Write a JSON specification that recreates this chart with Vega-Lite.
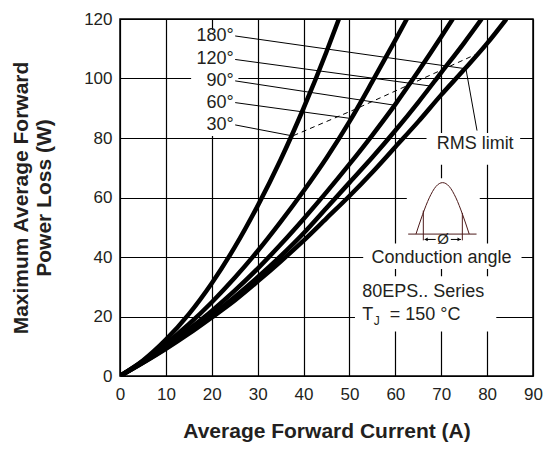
{
  "$schema": "https://vega.github.io/schema/vega-lite/v6.json",
  "width": 413,
  "height": 357,
  "autosize": "none",
  "padding": {"left": 120, "top": 19, "right": 10, "bottom": 73},
  "background": "white",
  "config": {
    "view": {"stroke": "#000", "strokeWidth": 1.5},
    "font": "Liberation Sans",
    "axis": {
      "grid": true, "gridColor": "#000", "gridWidth": 1.2, "gridOpacity": 1,
      "domain": false, "ticks": false,
      "labelFont": "Liberation Sans", "labelFontSize": 17, "labelColor": "#231f20",
      "titleFont": "Liberation Sans", "titleFontSize": 21, "titleFontWeight": "bold", "titleColor": "#231f20"
    }
  },
  "datasets": {
    "curves": [
      {"c": "30", "I": 0, "P": 0}, {"c": "30", "I": 5, "P": 5.2}, {"c": "30", "I": 10, "P": 12.2}, {"c": "30", "I": 15, "P": 20.8}, {"c": "30", "I": 20, "P": 31.2}, {"c": "30", "I": 25, "P": 43.3}, {"c": "30", "I": 30, "P": 57.2}, {"c": "30", "I": 35, "P": 72.7}, {"c": "30", "I": 40, "P": 90}, {"c": "30", "I": 45, "P": 109}, {"c": "30", "I": 47.7, "P": 120},
      {"c": "60", "I": 0, "P": 0}, {"c": "60", "I": 5, "P": 5}, {"c": "60", "I": 10, "P": 10.8}, {"c": "60", "I": 15, "P": 17.4}, {"c": "60", "I": 20, "P": 24.8}, {"c": "60", "I": 25, "P": 33}, {"c": "60", "I": 30, "P": 42}, {"c": "60", "I": 35, "P": 51.8}, {"c": "60", "I": 40, "P": 62.2}, {"c": "60", "I": 45, "P": 73.3}, {"c": "60", "I": 50, "P": 85.5}, {"c": "60", "I": 55, "P": 99}, {"c": "60", "I": 60, "P": 112.9}, {"c": "60", "I": 62.5, "P": 120},
      {"c": "90", "I": 0, "P": 0}, {"c": "90", "I": 5, "P": 4.7}, {"c": "90", "I": 10, "P": 9.9}, {"c": "90", "I": 15, "P": 15.7}, {"c": "90", "I": 20, "P": 21.9}, {"c": "90", "I": 25, "P": 28.7}, {"c": "90", "I": 30, "P": 36.1}, {"c": "90", "I": 35, "P": 44.2}, {"c": "90", "I": 40, "P": 52.8}, {"c": "90", "I": 45, "P": 61.8}, {"c": "90", "I": 50, "P": 71.2}, {"c": "90", "I": 55, "P": 81}, {"c": "90", "I": 60, "P": 91.3}, {"c": "90", "I": 65, "P": 102.4}, {"c": "90", "I": 70, "P": 114}, {"c": "90", "I": 72.5, "P": 120},
      {"c": "120", "I": 0, "P": 0}, {"c": "120", "I": 5, "P": 4.5}, {"c": "120", "I": 10, "P": 9.4}, {"c": "120", "I": 15, "P": 14.7}, {"c": "120", "I": 20, "P": 20.5}, {"c": "120", "I": 25, "P": 26.6}, {"c": "120", "I": 30, "P": 33.2}, {"c": "120", "I": 35, "P": 40.3}, {"c": "120", "I": 40, "P": 48}, {"c": "120", "I": 45, "P": 56.5}, {"c": "120", "I": 50, "P": 65}, {"c": "120", "I": 55, "P": 73.5}, {"c": "120", "I": 60, "P": 82.5}, {"c": "120", "I": 65, "P": 92}, {"c": "120", "I": 70, "P": 102}, {"c": "120", "I": 75, "P": 112}, {"c": "120", "I": 78.8, "P": 120},
      {"c": "180", "I": 0, "P": 0}, {"c": "180", "I": 5, "P": 4.4}, {"c": "180", "I": 10, "P": 9.1}, {"c": "180", "I": 15, "P": 14.2}, {"c": "180", "I": 20, "P": 19.7}, {"c": "180", "I": 25, "P": 25.4}, {"c": "180", "I": 30, "P": 31.8}, {"c": "180", "I": 35, "P": 38.5}, {"c": "180", "I": 40, "P": 45.5}, {"c": "180", "I": 45, "P": 53}, {"c": "180", "I": 50, "P": 60.5}, {"c": "180", "I": 55, "P": 68.5}, {"c": "180", "I": 60, "P": 77}, {"c": "180", "I": 65, "P": 85.5}, {"c": "180", "I": 70, "P": 94.5}, {"c": "180", "I": 75, "P": 103}, {"c": "180", "I": 80, "P": 111.8}, {"c": "180", "I": 84.2, "P": 120}
    ],
    "rms": [
      {"I": 37.8, "P": 80.8}, {"I": 51.3, "P": 89.7}, {"I": 63, "P": 97.9}, {"I": 71, "P": 103.5}, {"I": 78.8, "P": 109}
    ],
    "boxes": [
      {"x": 15.5, "x2": 25.8, "y": 80.7, "y2": 116.3},
      {"x": 66.8, "x2": 87.2, "y": 71, "y2": 81.7},
      {"x": 62.5, "x2": 78.4, "y": 44, "y2": 66.5},
      {"x": 53, "x2": 87.5, "y": 36, "y2": 44.5},
      {"x": 51.2, "x2": 82, "y": 15, "y2": 33.5}
    ],
    "leaders": [
      {"x": 25.1, "y": 114.3, "x2": 75.2, "y2": 103.3},
      {"x": 25.1, "y": 106.4, "x2": 67.5, "y2": 97.5},
      {"x": 25.1, "y": 99.2, "x2": 59.5, "y2": 91.1},
      {"x": 25.1, "y": 91.9, "x2": 50.1, "y2": 86.6},
      {"x": 25.1, "y": 84.4, "x2": 37.6, "y2": 80.7},
      {"x": 75.3, "y": 104, "x2": 77.8, "y2": 82.5}
    ],
    "anglelabels": [
      {"t": "180°", "x": 24.8, "y": 114.3},
      {"t": "120°", "x": 24.8, "y": 106.4},
      {"t": "90°", "x": 24.8, "y": 99.2},
      {"t": "60°", "x": 24.8, "y": 91.9},
      {"t": "30°", "x": 24.8, "y": 84.4}
    ],
    "notes": [
      {"t": "RMS limit", "x": 69, "y": 77.9},
      {"t": "Conduction angle", "x": 54.8, "y": 39.8},
      {"t": "80EPS.. Series", "x": 52.8, "y": 28.4},
      {"t": "T", "x": 52.8, "y": 20.5},
      {"t": "= 150 °C", "x": 58.8, "y": 20.5}
    ],
    "sine": [
      {"x": 64.5, "y": 47.7}, {"x": 65.95, "y": 54.3}, {"x": 67.4, "y": 59.9}, {"x": 68.85, "y": 63.7}, {"x": 70.3, "y": 65}, {"x": 71.75, "y": 63.7}, {"x": 73.2, "y": 59.9}, {"x": 74.65, "y": 54.3}, {"x": 76.1, "y": 47.7}
    ],
    "sinerules": [
      {"x": 62.8, "y": 47.7, "x2": 77.7, "y2": 47.7, "k": "b"},
      {"x": 66.1, "y": 45.6, "x2": 66.1, "y2": 55.6, "k": "b"},
      {"x": 74.6, "y": 45.6, "x2": 74.6, "y2": 54.8, "k": "b"},
      {"x": 66.4, "y": 45.9, "x2": 68.8, "y2": 45.9, "k": "a"},
      {"x": 72.1, "y": 45.9, "x2": 74.3, "y2": 45.9, "k": "a"}
    ],
    "heads": [
      {"x": 66.7, "y": 45.9, "s": "triangle-left"},
      {"x": 73.9, "y": 45.9, "s": "triangle-right"}
    ]
  },
  "layer": [
    {
      "data": {"name": "boxes"},
      "mark": {"type": "rect", "fill": "white", "stroke": null},
      "encoding": {
        "x": {"field": "x", "type": "quantitative", "scale": {"domain": [0, 90], "nice": false},
              "axis": {"values": [0,10,20,30,40,50,60,70,80,90], "labelPadding": 10, "labelFlush": false, "title": "Average Forward Current (A)", "titlePadding": 18}},
        "x2": {"field": "x2"},
        "y": {"field": "y", "type": "quantitative", "scale": {"domain": [0, 120], "nice": false},
              "axis": {"values": [0,20,40,60,80,100,120], "labelPadding": 8, "title": ["Maximum Average Forward", "Power Loss (W)"], "titlePadding": 29, "titleLineHeight": 23}},
        "y2": {"field": "y2"}
      }
    },
    {
      "data": {"name": "curves"},
      "mark": {"type": "line", "color": "#000", "strokeWidth": 4.5, "interpolate": "monotone", "clip": true},
      "encoding": {
        "x": {"field": "I", "type": "quantitative"},
        "y": {"field": "P", "type": "quantitative"},
        "detail": {"field": "c"}
      }
    },
    {
      "data": {"name": "rms"},
      "mark": {"type": "line", "color": "#000", "strokeWidth": 1, "strokeDash": [5, 4]},
      "encoding": {
        "x": {"field": "I", "type": "quantitative"},
        "y": {"field": "P", "type": "quantitative"}
      }
    },
    {
      "data": {"name": "leaders"},
      "mark": {"type": "rule", "color": "#000", "strokeWidth": 1},
      "encoding": {
        "x": {"field": "x", "type": "quantitative"},
        "y": {"field": "y", "type": "quantitative"},
        "x2": {"field": "x2"},
        "y2": {"field": "y2"}
      }
    },
    {
      "data": {"name": "anglelabels"},
      "mark": {"type": "text", "align": "right", "baseline": "middle", "fontSize": 18, "color": "#231f20", "font": "Liberation Sans"},
      "encoding": {
        "x": {"field": "x", "type": "quantitative"},
        "y": {"field": "y", "type": "quantitative"},
        "text": {"field": "t"}
      }
    },
    {
      "data": {"name": "notes"},
      "mark": {"type": "text", "align": "left", "baseline": "middle", "fontSize": 18, "color": "#231f20", "font": "Liberation Sans"},
      "encoding": {
        "x": {"field": "x", "type": "quantitative"},
        "y": {"field": "y", "type": "quantitative"},
        "text": {"field": "t"}
      }
    },
    {
      "data": {"values": [{"t": "J", "x": 55.3, "y": 18.6}]},
      "mark": {"type": "text", "align": "left", "baseline": "middle", "fontSize": 12, "color": "#231f20", "font": "Liberation Sans"},
      "encoding": {
        "x": {"field": "x", "type": "quantitative"},
        "y": {"field": "y", "type": "quantitative"},
        "text": {"field": "t"}
      }
    },
    {
      "data": {"name": "sine"},
      "mark": {"type": "line", "color": "#4d1a1a", "strokeWidth": 1, "interpolate": "monotone"},
      "encoding": {
        "x": {"field": "x", "type": "quantitative"},
        "y": {"field": "y", "type": "quantitative"}
      }
    },
    {
      "data": {"name": "sinerules"},
      "mark": {"type": "rule", "strokeWidth": 1},
      "encoding": {
        "x": {"field": "x", "type": "quantitative"},
        "y": {"field": "y", "type": "quantitative"},
        "x2": {"field": "x2"},
        "y2": {"field": "y2"},
        "color": {"field": "k", "type": "nominal", "scale": {"domain": ["a", "b"], "range": ["#000", "#4d1a1a"]}, "legend": null}
      }
    },
    {
      "data": {"name": "heads"},
      "mark": {"type": "point", "filled": true, "color": "#000", "size": 14, "opacity": 1},
      "encoding": {
        "x": {"field": "x", "type": "quantitative"},
        "y": {"field": "y", "type": "quantitative"},
        "shape": {"field": "s", "type": "nominal", "scale": {"domain": ["triangle-left", "triangle-right"], "range": ["triangle-left", "triangle-right"]}, "legend": null}
      }
    },
    {
      "data": {"values": [{"t": "Ø", "x": 70.4, "y": 45.9}]},
      "mark": {"type": "text", "align": "center", "baseline": "middle", "fontSize": 15, "color": "#231f20", "font": "Liberation Sans"},
      "encoding": {
        "x": {"field": "x", "type": "quantitative"},
        "y": {"field": "y", "type": "quantitative"},
        "text": {"field": "t"}
      }
    }
  ]
}
